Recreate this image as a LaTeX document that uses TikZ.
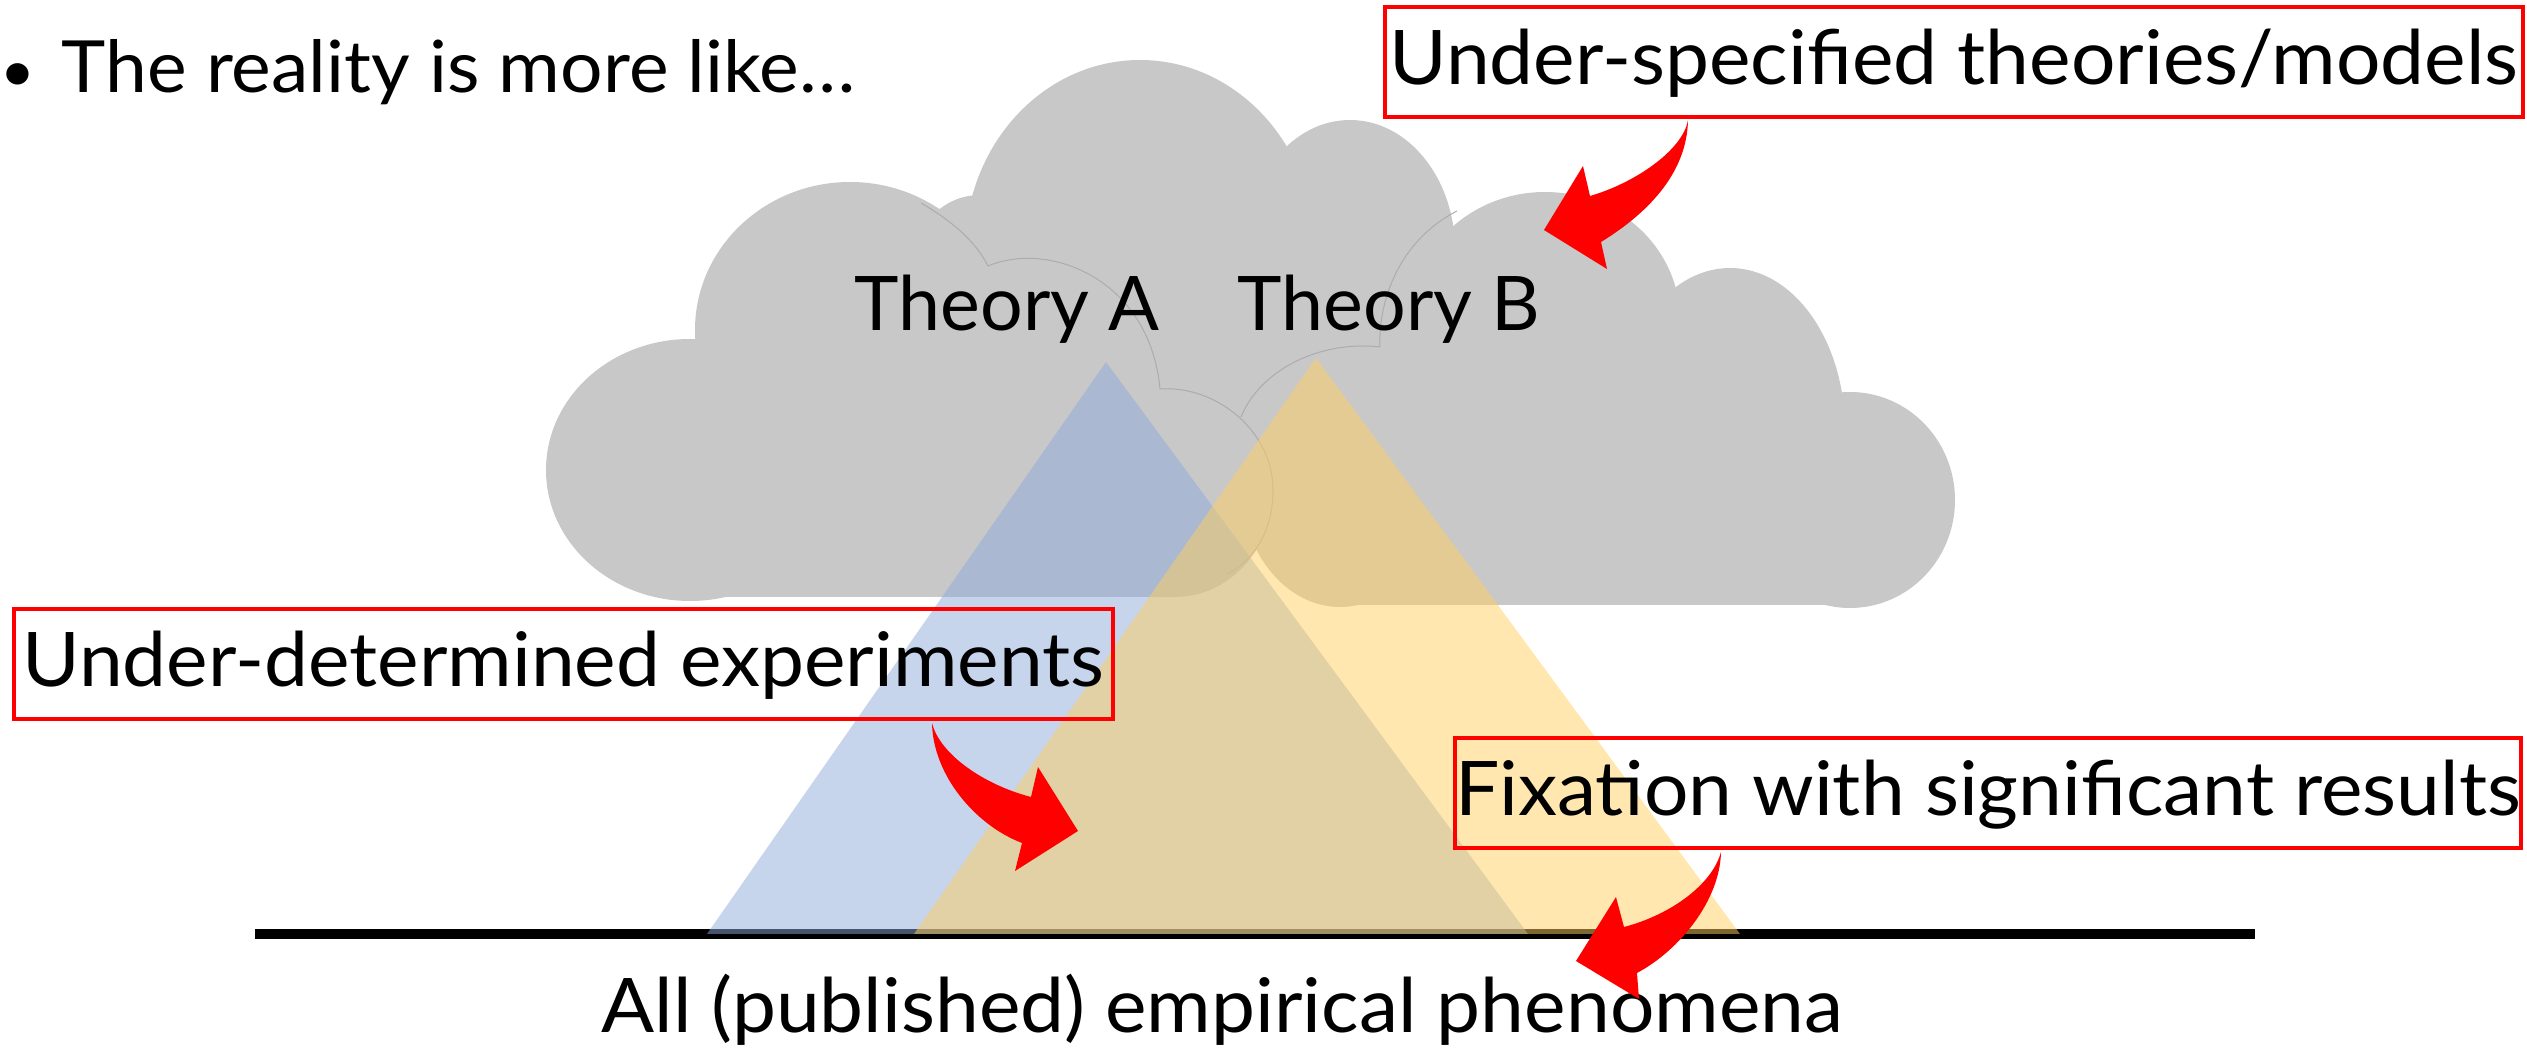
\documentclass[tikz,border=0pt]{standalone}
\usepackage{fontspec}
\setmainfont{Lato}[FakeStretch=1.042]
\newfontfamily\plainlato{Lato}
\definecolor{cloudgray}{RGB}{200,200,200}
\definecolor{cloudline}{RGB}{172,172,172}
\definecolor{triblue}{RGB}{141,169,218}
\definecolor{triyellow}{RGB}{255,207,95}
\tikzset{
  lbl/.style={inner sep=0pt, font=\fontsize{22.6pt}{27pt}\selectfont},
  theorylbl/.style={inner sep=0pt, font=\plainlato\fontsize{22.6pt}{27pt}\selectfont},
  redbox/.style={draw=red, line width=1.2pt, inner sep=0pt, text height=16.5pt, text depth=2.7pt, minimum height=33pt, font=\fontsize{22.6pt}{27pt}\selectfont},
  cloudfill/.style={fill=cloudgray},
  cloudedge/.style={draw=cloudline, line width=0.3pt},
  curvedarrow/.style={fill=red},
  baseline rule/.style={line width=3pt, draw=black},
}
\begin{document}
\begin{tikzpicture}[x=0.3pt,y=-0.3pt]
\useasboundingbox (0,0) rectangle (2527,1054);
% cloud
\fill[cloudfill] (690,470) ellipse [x radius=144, y radius=131];
\fill[cloudfill] (850,330) ellipse [x radius=155, y radius=148];
\fill[cloudfill] (980,260) ellipse [x radius=65, y radius=65];
\fill[cloudfill] (1140,250) ellipse [x radius=175, y radius=190];
\fill[cloudfill] (1350,250) ellipse [x radius=105, y radius=130];
\fill[cloudfill] (1545,320) ellipse [x radius=135, y radius=128];
\fill[cloudfill] (1730,430) ellipse [x radius=115, y radius=162];
\fill[cloudfill] (1850,500) ellipse [x radius=105, y radius=108];
\fill[cloudfill] (1340,480) ellipse [x radius=100, y radius=127];
\fill[cloudfill] (1175,490) ellipse [x radius=98, y radius=107];
\fill[cloudfill] (690,470) -- (850,330) -- (980,260) -- (1140,250) -- (1350,250) -- (1545,320) -- (1730,430) -- (1850,500) -- (1850,605) -- (1340,605) -- (1340,480) -- (1175,490) -- (1175,597) -- (690,597) -- cycle;
% faint inner cloud arcs
\draw[cloudedge] (921,203) .. controls (950,220) and (975,240) .. (988,266);
\draw[cloudedge] (988,266) .. controls (1050,240) and (1150,280) .. (1160,389);
\draw[cloudedge] (1160,389) .. controls (1215,385) and (1273,430) .. (1273,490) .. controls (1273,530) and (1255,560) .. (1227,574);
\draw[cloudedge] (1241,417) .. controls (1260,370) and (1320,340) .. (1380,347);
\draw[cloudedge] (1380,347) .. controls (1378,300) and (1400,240) .. (1457,211);
% baseline
\coordinate (baseL) at (255,934);
\coordinate (baseR) at (2255,934);
\draw[baseline rule] (baseL) -- (baseR);
% triangles
\fill[triblue, fill opacity=0.5] (707,934) -- (1106,362) -- (1528,934) -- cycle;
\fill[triyellow, fill opacity=0.5] (914,934) -- (1316,358) -- (1740,934) -- cycle;
% texts
\node[lbl, anchor=base west, font=\fontsize{21.6pt}{26pt}\selectfont] (intro) at (0,93) {\makebox[18.3pt][l]{\raisebox{0.5pt}{\scalebox{0.8}{•}}}The reality is more like…};
\node[theorylbl, anchor=base west] (thA) at (854,331) {Theory A};
\node[theorylbl, anchor=base west] (thB) at (1237,331) {Theory B};
\node[lbl, anchor=base west] (allph) at (601,1033) {All (published) empirical phenomena};
% boxes
\node[redbox, minimum width=341.4pt] (spec) at (1954,62) {Under-specified theories/models};
\node[redbox, minimum width=329.7pt] (exper) at (563.5,664) {Under-determined experiments};
\node[redbox, minimum width=319.2pt] (fix) at (1988,793) {Fixation with significant results};
% curved arrows
\fill[curvedarrow] (1688,120) .. controls (1687,175) and (1645,215) .. (1601,242) -- (1607,269) -- (1544,230) -- (1583,166) -- (1590,196) .. controls (1635,183) and (1683,150) .. (1688,120) -- cycle;
\fill[curvedarrow] (932,723) .. controls (933,775) and (975,825) .. (1022,843) -- (1015,871) -- (1078,831) -- (1038,767) -- (1031,797) .. controls (985,785) and (940,755) .. (932,723) -- cycle;
\fill[curvedarrow] (1721,852) .. controls (1720,900) and (1680,950) .. (1637,973) -- (1639,999) -- (1576,961) -- (1616,897) -- (1624,927) .. controls (1670,915) and (1712,885) .. (1721,852) -- cycle;
\end{tikzpicture}
\end{document}
